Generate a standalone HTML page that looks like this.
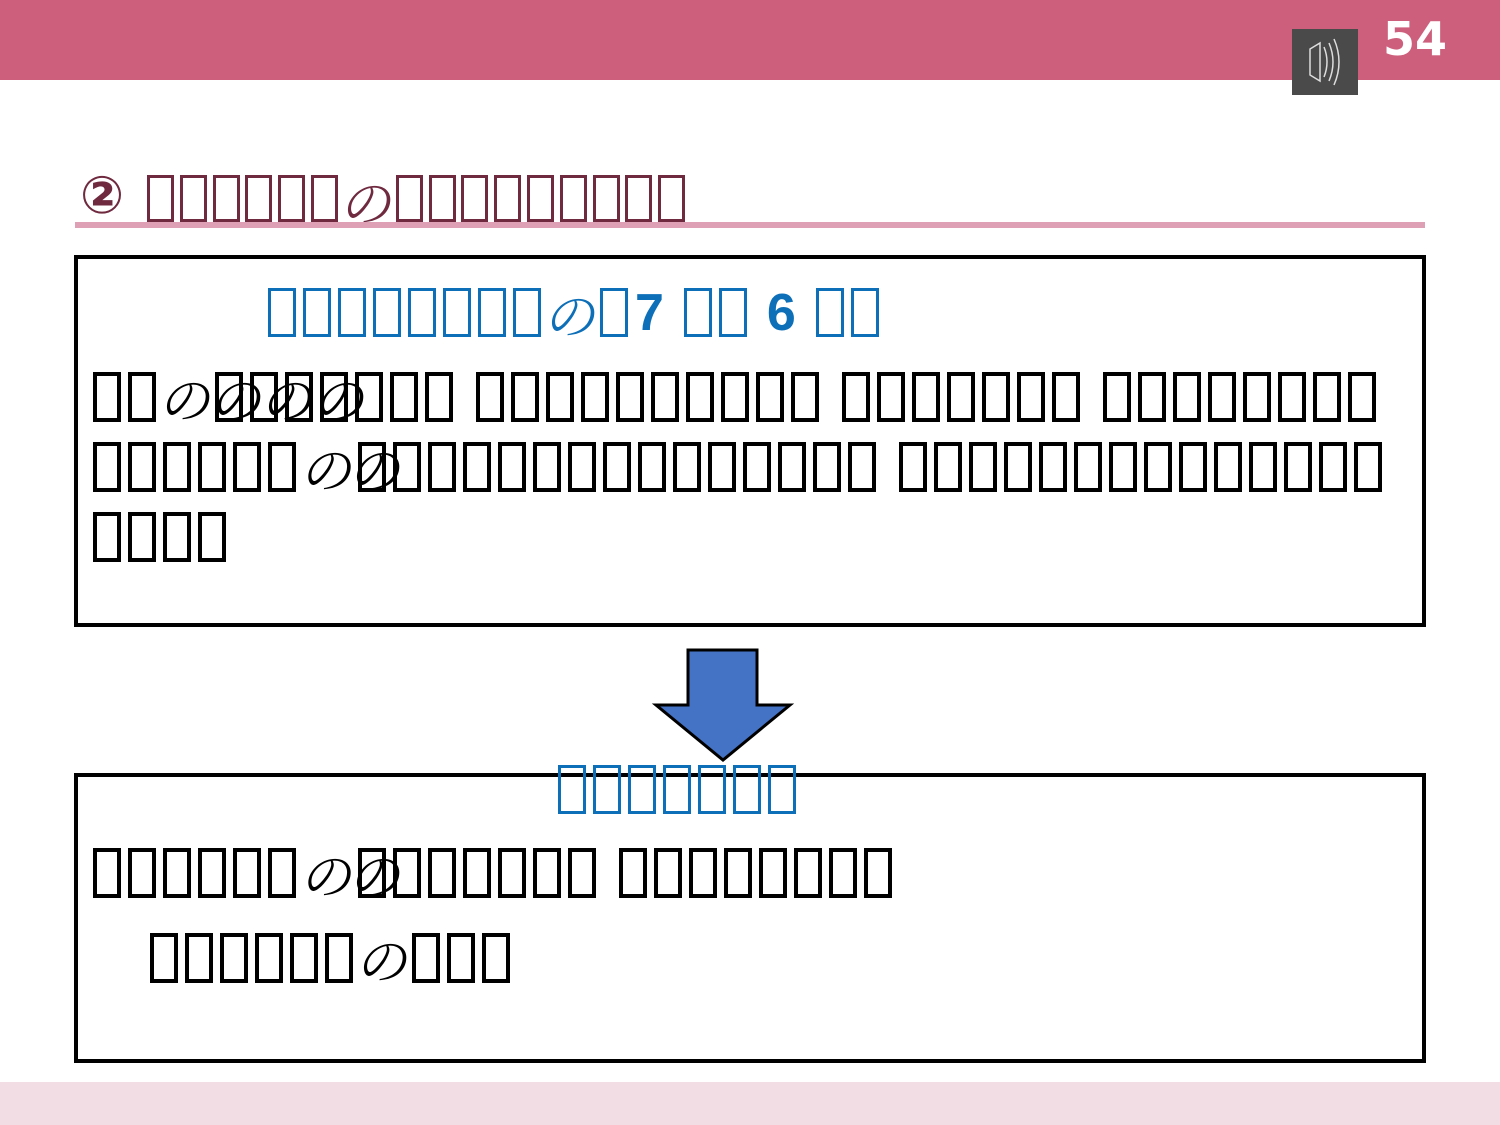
<!DOCTYPE html>
<html><head><meta charset="utf-8"><style>
body{margin:0;width:1500px;height:1125px;position:relative;background:#fff;overflow:hidden;font-family:"Liberation Sans","Noto Sans CJK JP",sans-serif}
.a{position:absolute}
.r{position:absolute;display:flex;align-items:flex-start;white-space:nowrap}
.b{width:28px;height:50px;border:4px solid #000;box-sizing:border-box;margin-right:7px;flex:none}
.s{width:16px;flex:none}
.n{font-family:"Noto Serif CJK JP","Liberation Serif",serif;font-size:52px;line-height:50px;width:52px;flex:none;text-align:center;transform:skewX(-12deg)}
.bl .b{border:3px solid #0d6fb8;height:49px}
.bl{color:#0d6fb8}
.ti .b{border:3px solid #6f2a40;width:27px;height:47px;margin-right:5.8px}
.ti{color:#6f2a40}
.nn{position:absolute;font-family:"Noto Serif CJK JP","Liberation Serif",serif;font-size:52px;line-height:50px;transform:skewX(-12deg)}
.dg{font-weight:bold;font-size:52px;line-height:50px;flex:none}
</style></head><body>
<div class="a" style="left:0;top:0;width:1500px;height:80px;background:#cd5f7c"></div>
<div class="a" style="left:1292px;top:29px;width:66px;height:66px;background:#4a4a4a"></div>
<svg class="a" style="left:1292px;top:29px" width="66" height="66"><g fill="none" stroke="#ddd" stroke-width="1.5"><path d="M18 20 L28 14 L28 52 L18 46 Z"/><path d="M32 18 Q38 33 32 48"/><path d="M37 14 Q45 33 37 52"/><path d="M42 10 Q52 33 42 56"/></g></svg>
<div class="a" style="left:1383px;top:14px;color:#fff;font-weight:bold;font-size:46px;line-height:50px;font-family:'DejaVu Sans',sans-serif">54</div>

<div class="a ti" style="left:80px;top:170px;font-size:52px;font-weight:bold;font-family:'DejaVu Sans',sans-serif;line-height:52px">②</div>
<div class="r ti" style="left:147px;top:175px"><span class="b"></span><span class="b"></span><span class="b"></span><span class="b"></span><span class="b"></span><span class="b"></span><span class="n">の</span><span class="b"></span><span class="b"></span><span class="b"></span><span class="b"></span><span class="b"></span><span class="b"></span><span class="b"></span><span class="b"></span><span class="b"></span></div>
<div class="a" style="left:75px;top:222px;width:1350px;height:6px;background:#dda0b4"></div>

<div class="a" style="left:74px;top:255px;width:1344px;height:364px;border:4px solid #000"></div>
<div class="r bl" style="left:268px;top:288px"><span class="b"></span><span class="b"></span><span class="b"></span><span class="b"></span><span class="b"></span><span class="b"></span><span class="b"></span><span class="b"></span><span class="n" style="width:48px">の</span><span class="b" style="margin-left:4px"></span><span class="dg">7</span><span class="s" style="width:20px"></span><span class="b"></span><span class="b"></span><span class="s" style="width:13px"></span><span class="dg">6</span><span class="s" style="width:20px"></span><span class="b"></span><span class="b"></span></div>

<div class="r" style="left:93px;top:372px"><span class="b"></span><span class="b"></span><span class="n">の</span><span class="b"></span><span class="b"></span><span class="b"></span><span class="b"></span><span class="b"></span><span class="b"></span><span class="b"></span><span class="s"></span><span class="b"></span><span class="b"></span><span class="b"></span><span class="b"></span><span class="b"></span><span class="b"></span><span class="b"></span><span class="b"></span><span class="b"></span><span class="b"></span><span class="s"></span><span class="b"></span><span class="b"></span><span class="b"></span><span class="b"></span><span class="b"></span><span class="b"></span><span class="b"></span><span class="s"></span><span class="b"></span><span class="b"></span><span class="b"></span><span class="b"></span><span class="b"></span><span class="b"></span><span class="b"></span><span class="b"></span></div>
<span class="nn" style="left:214px;top:372px">の</span><span class="nn" style="left:265px;top:372px">の</span><span class="nn" style="left:317px;top:372px">の</span>

<div class="r" style="left:93px;top:442px"><span class="b"></span><span class="b"></span><span class="b"></span><span class="b"></span><span class="b"></span><span class="b"></span><span class="n" style="width:55px">の</span><span class="b"></span><span class="b"></span><span class="b"></span><span class="b"></span><span class="b"></span><span class="b"></span><span class="b"></span><span class="b"></span><span class="b"></span><span class="b"></span><span class="b"></span><span class="b"></span><span class="b"></span><span class="b"></span><span class="b"></span><span class="s"></span><span class="b"></span><span class="b"></span><span class="b"></span><span class="b"></span><span class="b"></span><span class="b"></span><span class="b"></span><span class="b"></span><span class="b"></span><span class="b"></span><span class="b"></span><span class="b"></span><span class="b"></span><span class="b"></span></div>
<span class="nn" style="left:353px;top:442px">の</span>

<div class="r" style="left:93px;top:512px"><span class="b"></span><span class="b"></span><span class="b"></span><span class="b"></span></div>

<svg class="a" style="left:0;top:0" width="1500" height="1125"><polygon points="688,650 757,650 757,705 790,705 723,760 656,705 688,705" fill="#4472c4" stroke="#000" stroke-width="3" stroke-linejoin="miter"/></svg>

<div class="a" style="left:74px;top:773px;width:1344px;height:282px;border:4px solid #000"></div>
<div class="r bl" style="left:558px;top:765px"><span class="b"></span><span class="b"></span><span class="b"></span><span class="b"></span><span class="b"></span><span class="b"></span><span class="b"></span></div>

<div class="r" style="left:93px;top:848px"><span class="b"></span><span class="b"></span><span class="b"></span><span class="b"></span><span class="b"></span><span class="b"></span><span class="n" style="width:55px">の</span><span class="b"></span><span class="b"></span><span class="b"></span><span class="b"></span><span class="b"></span><span class="b"></span><span class="b"></span><span class="s"></span><span class="b"></span><span class="b"></span><span class="b"></span><span class="b"></span><span class="b"></span><span class="b"></span><span class="b"></span><span class="b"></span></div>
<span class="nn" style="left:353px;top:848px">の</span>

<div class="r" style="left:150px;top:933px"><span class="b"></span><span class="b"></span><span class="b"></span><span class="b"></span><span class="b"></span><span class="b"></span><span class="n">の</span><span class="b"></span><span class="b"></span><span class="b"></span></div>

<div class="a" style="left:0;top:1082px;width:1500px;height:43px;background:#f2dde5"></div>
</body></html>
